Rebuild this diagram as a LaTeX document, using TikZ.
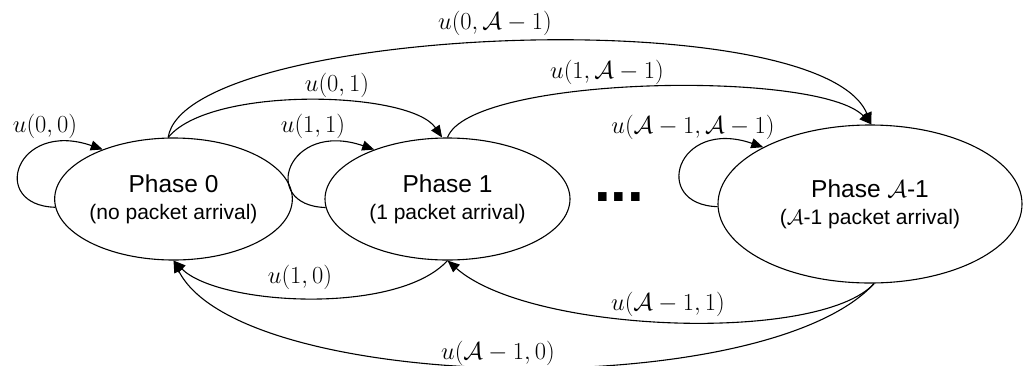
\RequirePackage{fix-cm}
\documentclass[tikz,border=0pt]{standalone}
\usepackage{fontspec}
\setmainfont{Liberation Sans}
\usetikzlibrary{shapes.geometric,arrows.meta}
\begin{document}
\begin{tikzpicture}[x=1pt,y=-1pt,
  state/.style={draw, ellipse, line width=1.1pt, inner sep=0pt, align=center,
                font=\fontsize{24.5}{27}\selectfont},
  edge/.style={line width=1.1pt, -{Triangle[length=12pt,width=10pt]}},
  lbl/.style={inner sep=0pt, font=\fontsize{24.5}{28}\selectfont}]
\clip (0,0) rectangle (1025,365);
\fill[white] (0,0) rectangle (1025,365);

\node[state, minimum width=233pt, minimum height=122pt] (e0) at (173.5,199)
  {Phase 0\\{\fontsize{21}{27}\selectfont (no packet arrival)}};
\node[state, minimum width=245pt, minimum height=122pt] (e1) at (447.5,199)
  {Phase 1\\{\fontsize{21}{27}\selectfont (1 packet arrival)}};
\node[state, minimum width=304pt, minimum height=158pt] (e2) at (870,204)
  {Phase $\mathcal{A}$-1\\{\fontsize{21}{27}\selectfont ($\mathcal{A}$-1 packet arrival)}};

\node[inner sep=0pt, anchor=base, font=\fontsize{60}{60}\selectfont\bfseries] (dots) at (619,201.5) {...};

% self loops
\draw[edge] (e0.184) .. controls +(-67,-2) and +(-87,-30) .. (e0.145.6);
\draw[edge] (e1.184) .. controls +(-67,-2) and +(-87,-30) .. (e1.146.7);
\draw[edge] (e2.181) .. controls +(-67,-2) and +(-87,-30) .. (e2.152.4);

% forward arcs
\draw[edge] (e0.95) .. controls +(42,-52) and +(-32,-47) .. (e1.95);
\draw[edge] (e0.95) .. controls +(17,-112) and +(-52,-125) .. (e2.89);
\draw[edge] (e1.90) .. controls +(23,-62) and +(-52,-55) .. (e2.89);

% backward arcs
\draw[edge] (e1.270) .. controls +(-50,55) and +(45,45) .. (e0.270);
\draw[edge] (e2.273.5) .. controls +(-55,60) and +(83,73) .. (e1.270);
\draw[edge] (e2.273.5) .. controls +(-110,120) and +(67,133) .. (e0.270);

% labels
\node[lbl] (l00) at (45,126) {$u(0,0)$};
\node[lbl] (l11) at (313,126) {$u(1,1)$};
\node[lbl] (lAA) at (693,127) {$u(\mathcal{A}-1,\mathcal{A}-1)$};
\node[lbl] (l01) at (337,85) {$u(0,1)$};
\node[lbl] (l0A) at (495,23) {$u(0,\mathcal{A}-1)$};
\node[lbl] (l1A) at (607,72) {$u(1,\mathcal{A}-1)$};
\node[lbl] (l10) at (300,277) {$u(1,0)$};
\node[lbl] (lA1) at (668,304) {$u(\mathcal{A}-1,1)$};
\node[lbl] (lA0) at (498,353) {$u(\mathcal{A}-1,0)$};
\end{tikzpicture}
\end{document}
